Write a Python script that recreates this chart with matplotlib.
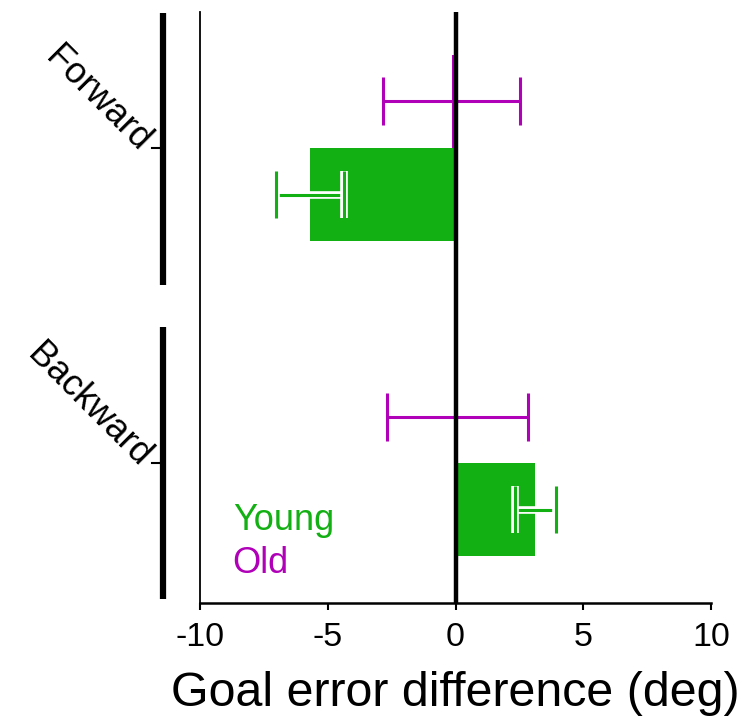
import matplotlib
matplotlib.use("Agg")
import matplotlib.pyplot as plt
import matplotlib.patheffects as pe
import matplotlib.transforms as mtransforms
import numpy as np

plt.rcParams['font.family'] = ['Liberation Sans', 'DejaVu Sans']

categories = ["Forward", "Backward"]
young_vals = [-5.7, 3.12]
young_err = [1.33, 0.80]
old_vals = [-0.15, 0.07]
old_err = [2.68, 2.76]
xticks = [-10, -5, 0, 5, 10]
xticklabels = ["-10", "-5", "0", "5", "10"]

green = "#13b013"
magenta = "#b000b8"

fig = plt.figure(figsize=(7.5, 7.21), dpi=100)
ax = fig.add_axes([200/750, 1-603/721, 511/750, 591/721])

ypos = np.array([1.0, 0.0])
h = 0.295
off = 0.148

ax.barh(ypos + off, old_vals, height=h, color=magenta, zorder=2)
ax.barh(ypos - off, young_vals, height=h, color=green, zorder=2)

ax.errorbar(old_vals, ypos + off, xerr=old_err, fmt='none', ecolor=magenta,
            elinewidth=2.2, capsize=17, capthick=2.2, zorder=3)
eb = ax.errorbar(young_vals, ypos - off, xerr=young_err, fmt='none', ecolor=green,
                 elinewidth=2.2, capsize=17, capthick=2.2, zorder=3)
for art in list(eb.lines[1]) + list(eb.lines[2]):
    art.set_path_effects([pe.Stroke(linewidth=5.5, foreground='white'), pe.Normal()])

ax.axvline(0, color='black', lw=3.2, zorder=5)

ax.set_xlim(-10, 10)
ax.set_ylim(-0.444, 1.432)
ax.set_xticks(xticks)
ax.set_xticklabels(xticklabels, fontsize=24.5)
ax.tick_params(axis='x', length=5, width=1.5, pad=9)
ax.set_yticks([])
for s in ['top', 'right']:
    ax.spines[s].set_visible(False)
ax.spines['left'].set_linewidth(1.3)
ax.spines['bottom'].set_linewidth(1.8)
ax.set_xlabel("Goal error difference (deg)", fontsize=34.8, labelpad=13)

# group brackets to the left
trans = mtransforms.blended_transform_factory(ax.transAxes, ax.transData)
bx = (163 - 200) / 511
tx = (152 - 200) / 511
brackets = [(0.565, 1.429), (-0.432, 0.432)]
for (y0, y1), yc, name in zip(brackets, ypos, categories):
    ax.plot([bx, bx], [y0, y1], color='black', lw=4.5, transform=trans,
            clip_on=False, solid_capstyle='butt')
    ax.plot([tx, bx], [yc, yc], color='black', lw=1.5, transform=trans,
            clip_on=False)
    ax.text((145 - 200) / 511, yc + 0.005, name, transform=trans, fontsize=26,
            rotation=-45, rotation_mode='anchor', ha='right', va='center')

# legend as coloured text
ax.text(0.064, 0.139, "Young", color=green, fontsize=26, transform=ax.transAxes,
        va='center', ha='left')
ax.text(0.064, 0.066, "Old", color=magenta, fontsize=26, transform=ax.transAxes,
        va='center', ha='left')

fig.savefig("out.png", dpi=100)
